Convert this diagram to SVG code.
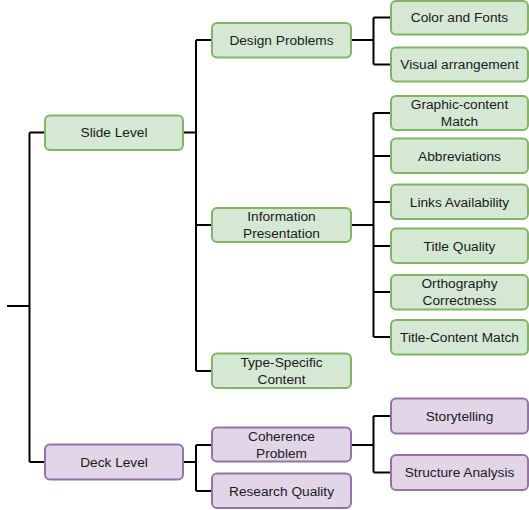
<svg xmlns="http://www.w3.org/2000/svg" width="529" height="510" viewBox="0 0 529 510">
<style>
.g rect{fill:#d5e8d4;stroke:#82b366;stroke-width:2}
.p rect{fill:#e1d5e7;stroke:#9673a6;stroke-width:2}
text{font-family:"Liberation Sans",Arial,sans-serif;font-size:13.7px;fill:#1a1a1a;text-anchor:middle}
#connectors path{fill:none;stroke:#000;stroke-width:2}
</style>
<rect width="529" height="510" fill="#fff"/>
<g id="connectors">
<path d="M7 306H29.5M29.5 132.5V462M29.5 132.5H45M29.5 462H45"/>
<path d="M183 132.5H196M196 40V371M196 40H212M196 225H212M196 371H212"/>
<path d="M183 462H196M196 445V491M196 445H212M196 491H212"/>
<path d="M351 40H373.5M373.5 17.5V64.5M373.5 17.5H391M373.5 64.5H391"/>
<path d="M351 225H373.5M373.5 113V337M373.5 113H391M373.5 156H391M373.5 202H391M373.5 246H391M373.5 292H391M373.5 337H391"/>
<path d="M351 445H373.5M373.5 416V472.5M373.5 416H391M373.5 472.5H391"/>
</g>
<g id="slide-level" class="g"><rect x="45" y="115.5" width="138" height="34.5" rx="5"/><text x="114" y="137.3">Slide Level</text></g>
<g id="deck-level" class="p"><rect x="45" y="444.5" width="138" height="35" rx="5"/><text x="114" y="466.8">Deck Level</text></g>
<g id="design-problems" class="g"><rect x="212" y="23" width="139" height="34.5" rx="5"/><text x="281.5" y="44.8">Design Problems</text></g>
<g id="information-presentation" class="g"><rect x="212" y="208" width="139" height="34" rx="5"/><text x="281.5" y="221">Information</text><text x="281.5" y="238">Presentation</text></g>
<g id="type-specific-content" class="g"><rect x="212" y="353.5" width="139" height="34.5" rx="5"/><text x="281.5" y="366.5">Type-Specific</text><text x="281.5" y="383.5">Content</text></g>
<g id="coherence-problem" class="p"><rect x="212" y="427.5" width="139" height="34" rx="5"/><text x="281.5" y="440.5">Coherence</text><text x="281.5" y="457.5">Problem</text></g>
<g id="research-quality" class="p"><rect x="212" y="473.5" width="139" height="34.5" rx="5"/><text x="281.5" y="495.5">Research Quality</text></g>
<g id="color-and-fonts" class="g"><rect x="391" y="1" width="137" height="33.5" rx="5"/><text x="459.5" y="22.3">Color and Fonts</text></g>
<g id="visual-arrangement" class="g"><rect x="391" y="47.5" width="137" height="34" rx="5"/><text x="459.5" y="69.3">Visual arrangement</text></g>
<g id="graphic-content-match" class="g"><rect x="391" y="96" width="137" height="34" rx="5"/><text x="459.5" y="109">Graphic-content</text><text x="459.5" y="126">Match</text></g>
<g id="abbreviations" class="g"><rect x="391" y="138.5" width="137" height="34.5" rx="5"/><text x="459.5" y="160.5">Abbreviations</text></g>
<g id="links-availability" class="g"><rect x="391" y="184.5" width="137" height="34.5" rx="5"/><text x="459.5" y="206.5">Links Availability</text></g>
<g id="title-quality" class="g"><rect x="391" y="228.5" width="137" height="34.5" rx="5"/><text x="459.5" y="250.5">Title Quality</text></g>
<g id="orthography-correctness" class="g"><rect x="391" y="275" width="137" height="34.5" rx="5"/><text x="459.5" y="288">Orthography</text><text x="459.5" y="305">Correctness</text></g>
<g id="title-content-match" class="g"><rect x="391" y="320" width="137" height="34.5" rx="5"/><text x="459.5" y="341.8">Title-Content Match</text></g>
<g id="storytelling" class="p"><rect x="391" y="398.5" width="137" height="35" rx="5"/><text x="459.5" y="420.5">Storytelling</text></g>
<g id="structure-analysis" class="p"><rect x="391" y="455" width="137" height="35" rx="5"/><text x="459.5" y="477">Structure Analysis</text></g>
</svg>
